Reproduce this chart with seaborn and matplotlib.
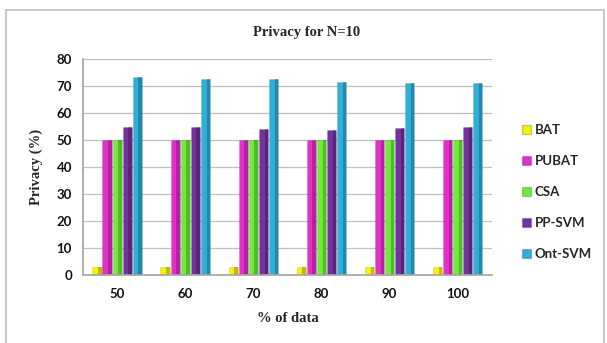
import matplotlib
matplotlib.use("Agg")
import matplotlib.pyplot as plt
import matplotlib.patches as mpatches
import seaborn as sns
import pandas as pd

# Share of data used (%) and privacy scores per method
data_pct = ["50", "60", "70", "80", "90", "100"]
bat = [3, 3, 3, 3, 3, 3]
pubat = [50, 50, 50, 50, 50, 50]
csa = [50, 50, 50, 50, 50, 50]
pp_svm = [55, 55, 54, 53.7, 54.5, 55]
ont_svm = [73.2, 72.6, 72.6, 71.4, 71, 71]

methods = ["BAT", "PUBAT", "CSA", "PP-SVM", "Ont-SVM"]
colors = ["#F6F200", "#E42FC9", "#6BEE35", "#7232A0", "#2FAED6"]

rows = []
for name, vals in zip(methods, [bat, pubat, csa, pp_svm, ont_svm]):
    for x, v in zip(data_pct, vals):
        rows.append({"data": x, "method": name, "privacy": v})
df = pd.DataFrame(rows)

sns.set_theme(style="white")
fig = plt.figure(figsize=(6.07, 3.43), dpi=100)
ax = fig.add_axes([0.137, 0.198, 0.673, 0.63])

sns.barplot(data=df, x="data", y="privacy", hue="method", hue_order=methods,
            order=data_pct, palette=colors, width=0.74, gap=0.08,
            saturation=1, ax=ax, legend=False)

# darker right side on each bar for a rounded look
bars = list(ax.patches)
for bar in bars:
    bar.set_edgecolor((0, 0, 0, 0.12))
    bar.set_linewidth(0.5)
    x0, y0 = bar.get_x(), bar.get_y()
    w, h = bar.get_width(), bar.get_height()
    ax.add_patch(mpatches.Rectangle((x0 + w * 0.62, y0), w * 0.38, h,
                                    facecolor=(0, 0, 0, 0.22), edgecolor="none",
                                    zorder=bar.get_zorder() + 0.1))

ax.set_ylim(0, 80)
ax.set_yticks(range(0, 81, 10))
ax.yaxis.grid(True, color="#BFBFBF", linewidth=0.9)
ax.set_axisbelow(True)
for s in ["top", "right"]:
    ax.spines[s].set_visible(False)
ax.spines["left"].set_color("#A6A6A6")
ax.spines["bottom"].set_color("#A6A6A6")
ax.tick_params(axis="y", length=4, color="#A6A6A6", pad=4)
ax.tick_params(axis="x", length=0, pad=9)
for lab in ax.get_xticklabels() + ax.get_yticklabels():
    lab.set_fontfamily("Lato")
    lab.set_fontweight("bold")
    lab.set_fontsize(9.5)
    lab.set_color("#111111")

ax.set_xlabel("% of data", fontfamily="Liberation Serif", fontweight="bold",
              fontsize=10.5, labelpad=9)
ax.set_ylabel("Privacy (%)", fontfamily="Liberation Serif", fontweight="bold",
              fontsize=10.5, labelpad=10)
fig.text(0.505, 0.905, "Privacy for N=10", ha="center", va="center",
         fontfamily="Liberation Serif", fontweight="bold", fontsize=10.5)

handles = [mpatches.Patch(facecolor=c, edgecolor=(0, 0, 0, 0.2), label=m)
           for m, c in zip(methods, colors)]
leg = fig.legend(handles=handles, loc="center left", bbox_to_anchor=(0.84, 0.44),
                 frameon=False, handlelength=0.7, handleheight=0.7,
                 handletextpad=0.3, labelspacing=1.45,
                 prop={"family": "Lato", "weight": "bold", "size": 9.5})

# outer chart border
fig.patches.append(mpatches.Rectangle((0.010, -0.05), 0.985, 1.02,
                   transform=fig.transFigure, fill=False,
                   edgecolor="#BDBDBD", linewidth=1.2))

fig.savefig("out.png", dpi=100)
